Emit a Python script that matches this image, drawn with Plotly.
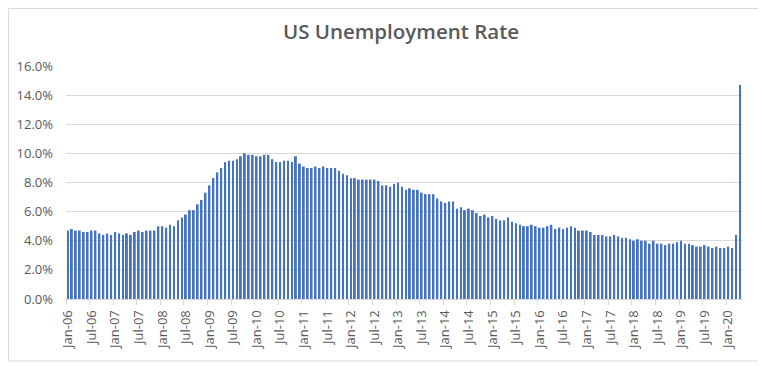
import plotly.graph_objects as go

years = list(range(2006, 2021))
month_names = ["Jan", "Feb", "Mar", "Apr", "May", "Jun", "Jul", "Aug", "Sep", "Oct", "Nov", "Dec"]

rate_2006 = [4.7, 4.8, 4.7, 4.7, 4.6, 4.6, 4.7, 4.7, 4.5, 4.4, 4.5, 4.4]
rate_2007 = [4.6, 4.5, 4.4, 4.5, 4.4, 4.6, 4.7, 4.6, 4.7, 4.7, 4.7, 5.0]
rate_2008 = [5.0, 4.9, 5.1, 5.0, 5.4, 5.6, 5.8, 6.1, 6.1, 6.5, 6.8, 7.3]
rate_2009 = [7.8, 8.3, 8.7, 9.0, 9.4, 9.5, 9.5, 9.6, 9.8, 10.0, 9.9, 9.9]
rate_2010 = [9.8, 9.8, 9.9, 9.9, 9.6, 9.4, 9.4, 9.5, 9.5, 9.4, 9.8, 9.3]
rate_2011 = [9.1, 9.0, 9.0, 9.1, 9.0, 9.1, 9.0, 9.0, 9.0, 8.8, 8.6, 8.5]
rate_2012 = [8.3, 8.3, 8.2, 8.2, 8.2, 8.2, 8.2, 8.1, 7.8, 7.8, 7.7, 7.9]
rate_2013 = [8.0, 7.7, 7.5, 7.6, 7.5, 7.5, 7.3, 7.2, 7.2, 7.2, 6.9, 6.7]
rate_2014 = [6.6, 6.7, 6.7, 6.2, 6.3, 6.1, 6.2, 6.1, 5.9, 5.7, 5.8, 5.6]
rate_2015 = [5.7, 5.5, 5.4, 5.4, 5.6, 5.3, 5.2, 5.1, 5.0, 5.0, 5.1, 5.0]
rate_2016 = [4.9, 4.9, 5.0, 5.1, 4.8, 4.9, 4.8, 4.9, 5.0, 4.9, 4.7, 4.7]
rate_2017 = [4.7, 4.6, 4.4, 4.4, 4.4, 4.3, 4.3, 4.4, 4.3, 4.2, 4.2, 4.1]
rate_2018 = [4.0, 4.1, 4.0, 4.0, 3.8, 4.0, 3.8, 3.8, 3.7, 3.8, 3.8, 3.9]
rate_2019 = [4.0, 3.8, 3.8, 3.7, 3.6, 3.6, 3.7, 3.6, 3.5, 3.6, 3.5, 3.5]
rate_2020 = [3.6, 3.5, 4.4, 14.7]

rates_pct = (rate_2006 + rate_2007 + rate_2008 + rate_2009 + rate_2010 + rate_2011 +
             rate_2012 + rate_2013 + rate_2014 + rate_2015 + rate_2016 + rate_2017 +
             rate_2018 + rate_2019 + rate_2020)
labels = []
for y in years:
    for m in month_names:
        labels.append(f"{m}-{str(y)[2:]}")
labels = labels[:len(rates_pct)]
rates = [v / 100 for v in rates_pct]
idx = list(range(len(rates)))

tick_idx = idx[::6]
tick_text = [labels[i] for i in tick_idx]
y_ticks = [0, 0.02, 0.04, 0.06, 0.08, 0.10, 0.12, 0.14, 0.16]

fig = go.Figure(go.Bar(x=idx, y=rates, marker=dict(color="#4472C4", line=dict(width=0)),
                       hovertext=labels))

grey = "#595959"
W, H = 766, 366
L, T, R, B = 58, 58, 32, 75
fig.update_layout(
    width=W, height=H,
    margin=dict(l=L, r=R, t=T, b=B, autoexpand=False),
    paper_bgcolor="white", plot_bgcolor="white",
    bargap=0.52,
    showlegend=False,
    title=dict(text="US Unemployment Rate", x=0.5 - 3 / (W - L - R), xref="paper",
               xanchor="center", y=1 - 24 / H, yanchor="middle",
               font=dict(family="Open Sans", size=20.5, color=grey, weight=600)),
    font=dict(family="Open Sans", size=13, color=grey),
)
fig.update_xaxes(
    range=[-0.5, len(rates) - 0.5], tickmode="array", tickvals=tick_idx, ticktext=tick_text,
    tickangle=-90, ticks="", showgrid=False, showline=True, linecolor="#D9D9D9", linewidth=1,
    tickfont=dict(size=13, color=grey), ticklabelstandoff=5,
    minor=dict(tickmode="array", tickvals=[i - 0.5 for i in tick_idx], ticks="outside",
               ticklen=5, tickcolor="#D9D9D9", showgrid=False),
)
fig.update_yaxes(
    range=[0, 0.16], tickmode="array", tickvals=y_ticks, tickformat=".1%",
    showgrid=True, gridcolor="#D9D9D9", gridwidth=1, zeroline=False, showline=False,
    ticks="", tickfont=dict(size=13, color=grey), ticklabelstandoff=12,
)
pw, ph = W - L - R, H - T - B
fig.add_shape(type="rect", xref="paper", yref="paper",
              x0=(0.5 - L) / pw, x1=(753 - L) / pw,
              y0=(H - B - 353) / ph, y1=(H - B - 0.5) / ph,
              line=dict(color="#D9D9D9", width=1), layer="below")

fig.write_html("out.html")
